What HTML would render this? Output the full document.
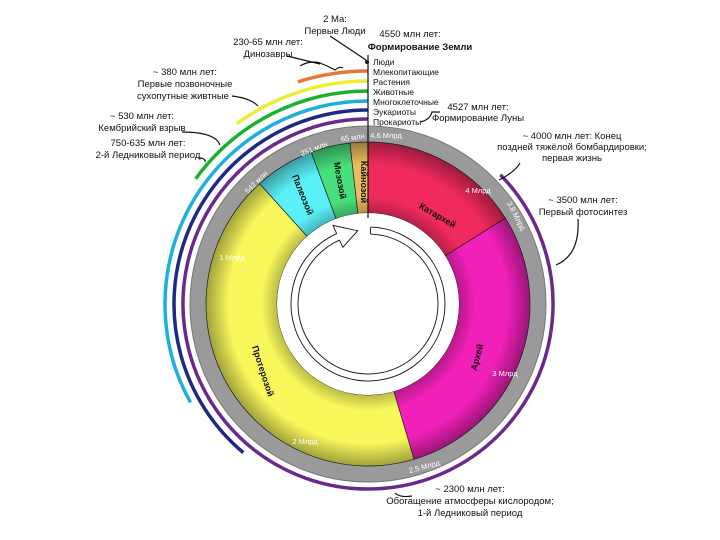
<!DOCTYPE html>
<html><head><meta charset="utf-8"><style>
html,body{margin:0;padding:0;background:#fff;}
svg{display:block;font-family:"Liberation Sans",sans-serif;}
</style></head><body>
<svg id="s" width="720" height="540" viewBox="0 0 720 540" xmlns="http://www.w3.org/2000/svg">
<defs>
<radialGradient id="shade" cx="368" cy="304" r="162" gradientUnits="userSpaceOnUse">
<stop offset="0.56" stop-color="#000" stop-opacity="0.25"/>
<stop offset="0.66" stop-color="#000" stop-opacity="0"/>
<stop offset="0.86" stop-color="#000" stop-opacity="0"/>
<stop offset="1" stop-color="#000" stop-opacity="0.35"/>
</radialGradient>
</defs>
<g id="shapes"></g>
<g font-size="9.5" fill="#111" text-anchor="middle">
<text x="335" y="22">2 Ma:</text><text x="335" y="34">Первые Люди</text>
<text x="268" y="45">230-65 млн лет:</text><text x="268" y="57">Динозавры</text>
<text x="410" y="37">4550 млн лет:</text><text x="420" y="50" font-weight="bold">Формирование Земли</text>
<text x="478" y="110">4527 млн лет:</text><text x="478" y="121">Формирование Луны</text>
<text x="572" y="139">~ 4000 млн лет: Конец</text><text x="572" y="150">поздней тяжёлой бомбардировки;</text><text x="572" y="161">первая жизнь</text>
<text x="583" y="203">~ 3500 млн лет:</text><text x="583" y="215">Первый фотосинтез</text>
<text x="470" y="492">~ 2300 млн лет:</text><text x="470" y="504">Обогащение атмосферы кислородом;</text><text x="470" y="516">1-й Ледниковый период</text>
<text x="185" y="75">~ 380 млн лет:</text><text x="185" y="87">Первые позвоночные</text><text x="183" y="99">сухопутные живтные</text>
<text x="142" y="119">~ 530 млн лет:</text><text x="142" y="131">Кембрийский взрыв</text>
<text x="148" y="146">750-635 млн лет:</text><text x="148" y="158">2-й Ледниковый период</text>
</g>
<g font-size="8.5" fill="#111">
<text x="373" y="65">Люди</text><text x="373" y="75">Млекопитающие</text><text x="373" y="85">Растения</text><text x="373" y="95">Животные</text><text x="373" y="105">Многоклеточные</text><text x="373" y="115">Эукариоты</text><text x="373" y="125">Прокариоты</text>
</g>
<g font-size="9" font-weight="bold" fill="#111" text-anchor="middle">
<text transform="translate(436,218) rotate(30)">Катархей</text>
<text transform="translate(480,358) rotate(-75)">Архей</text>
<text transform="translate(260,372) rotate(72)">Протерозой</text>
<text transform="translate(300,196) rotate(68)">Палеозой</text>
<text transform="translate(337,181) rotate(80)">Мезозой</text>
<text transform="translate(361,182) rotate(90)">Кайнозой</text>
</g>
<g font-size="7.5" fill="#fff" text-anchor="middle">
<text x="386" y="138">4.6 Млрд</text>
<text transform="translate(353,140) rotate(-8)">65 млн</text>
<text transform="translate(315,151) rotate(-22)">251 млн</text>
<text transform="translate(258,184) rotate(-45)">542 млн</text>
<text x="232" y="260">1 Млрд</text>
<text x="305" y="444">2 Млрд</text>
<text transform="translate(425,469) rotate(-15)">2.5 Млрд</text>
<text x="505" y="376">3 Млрд</text>
<text x="478" y="193">4 Млрд</text>
<text transform="translate(514,217) rotate(62)">3.8 Млрд</text>
</g>
<g fill="none" stroke="#111" stroke-width="1.2">
<path d="M330 36 L366 60"/>
<path d="M300 66 Q310 60 320 63 Q328 66 335 70 Q340 66 343 68"/>
<path d="M287 56 L320 64"/>
<path d="M232 96 Q250 98 258 106"/>
<path d="M182 132 Q215 132 220 145"/>
<path d="M198 158 Q206 158 205 162"/>
<path d="M420 122 Q430 120 432 112 L440 112"/>
<path d="M520 163 Q515 172 499 180"/>
<path d="M578 219 Q580 255 556 265"/>
<path d="M412 496 Q400 498 395 493"/>
<path d="M368 55 L368 218"/>
</g>
<circle cx="367" cy="62" r="2" fill="#111"/>
<script>
var C=[368,304],g=document.getElementById('shapes'),NS='http://www.w3.org/2000/svg';
function p(r,a){a=a*Math.PI/180;return [C[0]+r*Math.sin(a),C[1]-r*Math.cos(a)];}
function sector(r1,r2,a1,a2){var A=p(r2,a1),B=p(r2,a2),D=p(r1,a2),E=p(r1,a1),l=(a2-a1)>180?1:0;
return 'M'+A+' A'+r2+' '+r2+' 0 '+l+' 1 '+B+' L'+D+' A'+r1+' '+r1+' 0 '+l+' 0 '+E+'Z';}
function arc(r,a1,a2){var A=p(r,a1),B=p(r,a2),l=(a2-a1)>180?1:0;return 'M'+A+' A'+r+' '+r+' 0 '+l+' 1 '+B;}
function add(t,at){var e=document.createElementNS(NS,t);for(var k in at)e.setAttribute(k,at[k]);g.appendChild(e);return e;}
add('circle',{cx:C[0],cy:C[1],r:170,fill:'none',stroke:'#9a9a9a','stroke-width':16});
add('circle',{cx:C[0],cy:C[1],r:178,fill:'none',stroke:'#777','stroke-width':1});
var segs=[[0,58,'#f02a5e'],[58,163.5,'#f020b8'],[163.5,318,'#f8f85c'],[318,339.5,'#5af0f8'],[339.5,353.6,'#48e07c'],[353.6,360,'#ecbc5c']];
segs.forEach(function(s){add('path',{d:sector(91,162,s[0],s[1]),fill:s[2],stroke:'#222','stroke-width':0.7});});
add('circle',{cx:C[0],cy:C[1],r:126.5,fill:'none',stroke:'url(#shade)','stroke-width':71});
add('circle',{cx:C[0],cy:C[1],r:91,fill:'#fff'});
var arcs=[[185,45.7,360,'#6a2a8c'],[194,220,360,'#1e2a80'],[203,241,360,'#1ab0e0'],[213,306,360,'#1cb030'],[223,324,360,'#eeee30'],[233,342.5,360,'#e87838']];
arcs.forEach(function(a){add('path',{d:arc(a[0],a[1],a[2]),fill:'none',stroke:a[3],'stroke-width':3.5});});
add('path',{d:arc(70,2,336),fill:'none',stroke:'#111','stroke-width':0.9});
add('path',{d:arc(77,2,336),fill:'none',stroke:'#111','stroke-width':0.9});
add('path',{d:'M'+p(70,2)+' L'+p(77,2),fill:'none',stroke:'#111','stroke-width':0.9});
var t=p(74,352),a=p(62,336),b=p(86,336),a1=p(70,336),b1=p(77,336);
add('path',{d:'M'+a1+' L'+a+' L'+t+' L'+b+' L'+b1,fill:'#fff',stroke:'#111','stroke-width':0.9});
</script>
</svg>
</body></html>
